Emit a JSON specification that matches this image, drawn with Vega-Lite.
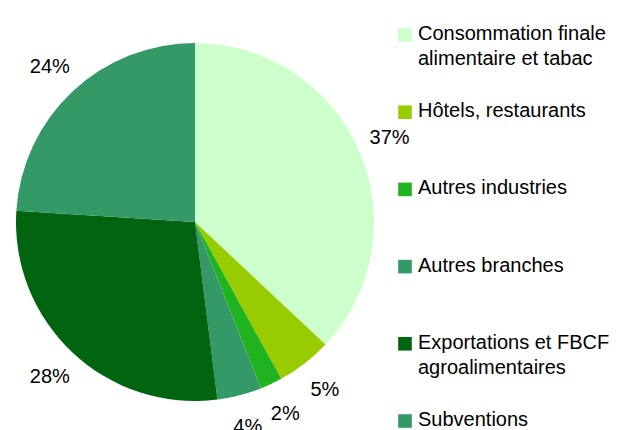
{
  "$schema": "https://vega.github.io/schema/vega-lite/v6.json",
  "padding": {"top": 7, "left": 0, "right": 0, "bottom": 0},
  "background": "white",
  "bounds": "flush",
  "config": {"view": {"stroke": null}, "font": "Liberation Sans", "concat": {"spacing": 0}},
  "spacing": 0,
  "data": {
    "values": [
      {"poste": "Consommation finale alimentaire et tabac", "etiquette": "Consommation finale|alimentaire et tabac", "part": 37, "rang": 1},
      {"poste": "Hôtels, restaurants", "etiquette": "Hôtels, restaurants", "part": 5, "rang": 2},
      {"poste": "Autres industries", "etiquette": "Autres industries", "part": 2, "rang": 3},
      {"poste": "Autres branches", "etiquette": "Autres branches", "part": 4, "rang": 4},
      {"poste": "Exportations et FBCF agroalimentaires", "etiquette": "Exportations et FBCF|agroalimentaires", "part": 28, "rang": 5},
      {"poste": "Subventions", "etiquette": "Subventions", "part": 24, "rang": 6}
    ]
  },
  "transform": [{"calculate": "datum.part + '%'", "as": "pct"}],
  "hconcat": [
    {
      "width": 390,
      "height": 430,
      "encoding": {
        "theta": {"field": "part", "type": "quantitative", "stack": true},
        "order": {"field": "rang", "type": "quantitative"}
      },
      "layer": [
        {
          "mark": {"type": "arc", "outerRadius": 179},
          "encoding": {
            "color": {
              "field": "poste",
              "type": "nominal",
              "legend": null,
              "scale": {
                "domain": ["Consommation finale alimentaire et tabac", "Hôtels, restaurants", "Autres industries", "Autres branches", "Exportations et FBCF agroalimentaires", "Subventions"],
                "range": ["#CCFFCC", "#99CC00", "#1FB31F", "#339966", "#006411", "#339966"]
              }
            }
          }
        },
        {
          "mark": {"type": "text", "radius": 212, "fontSize": 20, "font": "Liberation Sans", "color": "black"},
          "encoding": {
            "text": {"field": "pct", "type": "nominal"}
          }
        }
      ]
    },
    {
      "width": 231,
      "height": 430,
      "encoding": {
        "y": {
          "field": "rang",
          "type": "quantitative",
          "axis": null,
          "scale": {"domain": [0.6373, 6.2072], "reverse": true, "zero": false, "nice": false}
        }
      },
      "layer": [
        {
          "mark": {"type": "point", "shape": "square", "filled": true, "size": 185, "opacity": 1},
          "encoding": {
            "x": {"value": 15},
            "color": {
              "field": "poste",
              "type": "nominal",
              "legend": null,
              "scale": {
                "domain": ["Consommation finale alimentaire et tabac", "Hôtels, restaurants", "Autres industries", "Autres branches", "Exportations et FBCF agroalimentaires", "Subventions"],
                "range": ["#CCFFCC", "#99CC00", "#1FB31F", "#339966", "#006411", "#339966"]
              }
            }
          }
        },
        {
          "mark": {"type": "text", "align": "left", "baseline": "top", "dy": -11, "lineHeight": 25, "lineBreak": "|", "fontSize": 20, "font": "Liberation Sans", "color": "black"},
          "encoding": {
            "x": {"value": 28},
            "text": {"field": "etiquette", "type": "nominal"}
          }
        }
      ]
    }
  ]
}
